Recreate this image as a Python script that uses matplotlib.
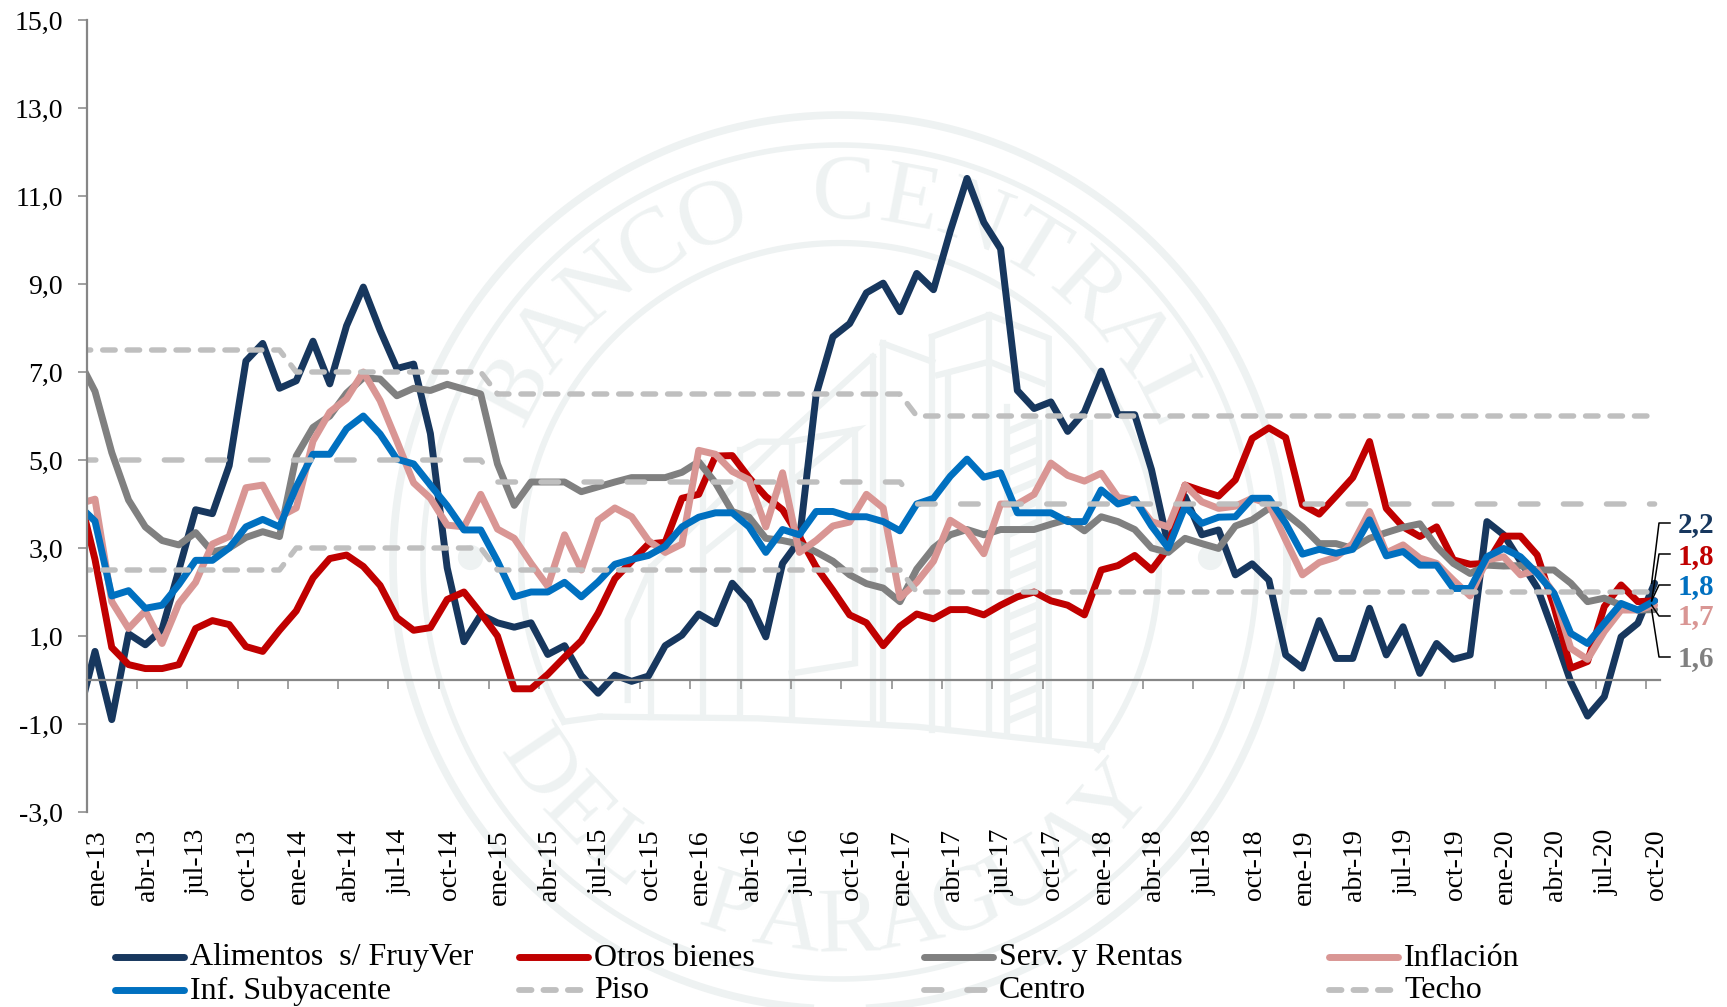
import numpy as np
import matplotlib
matplotlib.use("Agg")
import matplotlib.pyplot as plt

plt.rcParams['font.family'] = ['Liberation Serif', 'DejaVu Serif']
plt.rcParams['lines.scale_dashes'] = False

W, H = 1727, 1007

# meses: el primer valor es dic-12, queda cortado por el eje
alimentos = [-0.85, 0.65, -0.9, 1.05, 0.8, 1.15, 2.5, 3.87, 3.78, 4.87, 7.25, 7.65, 6.63, 6.8, 7.7, 6.73, 8.05,
             8.93, 7.95, 7.08, 7.18, 5.6, 2.55, 0.87, 1.48, 1.3, 1.2, 1.3, 0.58, 0.78, 0.1, -0.3, 0.11, -0.03,
             0.09, 0.78, 1.02, 1.5, 1.28, 2.2, 1.78, 0.98, 2.65, 3.17, 6.48, 7.8, 8.1, 8.8, 9.02, 8.37, 9.24,
             8.87, 10.2, 11.4, 10.4, 9.8, 6.58, 6.17, 6.32, 5.65, 6.09, 7.02, 6.03, 6.03, 4.78, 3.05, 4.17, 3.3,
             3.41, 2.39, 2.64, 2.27, 0.57, 0.27, 1.35, 0.49, 0.49, 1.63, 0.57, 1.21, 0.15, 0.83, 0.47, 0.57,
             3.6, 3.3, 2.7, 2.1, 1.06, -0.04, -0.82, -0.38, 0.98, 1.29, 2.2]
otros = [4.3, 2.74, 0.74, 0.35, 0.26, 0.26, 0.35, 1.17, 1.35, 1.26, 0.76, 0.65, 1.13, 1.57, 2.32, 2.76, 2.84,
         2.58, 2.15, 1.42, 1.13, 1.19, 1.83, 2.0, 1.52, 1.0, -0.2, -0.2, 0.13, 0.52, 0.89, 1.52, 2.3, 2.7, 3.09,
         3.13, 4.13, 4.22, 5.09, 5.1, 4.6, 4.17, 3.87, 3.26, 2.57, 2.04, 1.48, 1.3, 0.78, 1.22, 1.5, 1.39, 1.6,
         1.6, 1.48, 1.7, 1.89, 2.0, 1.8, 1.7, 1.48, 2.5, 2.6, 2.83, 2.5, 3.0, 4.43, 4.3, 4.18, 4.55, 5.49, 5.73,
         5.51, 3.98, 3.77, 4.18, 4.6, 5.42, 3.9, 3.48, 3.26, 3.48, 2.73, 2.63, 2.65, 3.27, 3.27, 2.84, 1.67,
         0.27, 0.42, 1.67, 2.16, 1.78, 1.8]
servicios = [7.3, 6.56, 5.17, 4.09, 3.48, 3.17, 3.07, 3.35, 2.91, 3.0, 3.24, 3.37, 3.26, 5.09, 5.74, 6.0, 6.52,
             6.87, 6.84, 6.46, 6.63, 6.58, 6.72, 6.61, 6.5, 4.91, 3.97, 4.5, 4.5, 4.5, 4.28, 4.39, 4.5, 4.6, 4.6,
             4.6, 4.72, 4.96, 4.48, 3.83, 3.7, 3.22, 3.17, 3.09, 2.91, 2.7, 2.39, 2.19, 2.09, 1.78, 2.52, 3.0, 3.3,
             3.42, 3.3, 3.42, 3.42, 3.42, 3.54, 3.65, 3.39, 3.71, 3.6, 3.42, 3.0, 2.9, 3.22, 3.1, 2.99, 3.5, 3.64,
             3.9, 3.79, 3.48, 3.1, 3.1, 2.99, 3.22, 3.35, 3.47, 3.55, 3.03, 2.65, 2.42, 2.61, 2.59, 2.6, 2.5, 2.5,
             2.2, 1.78, 1.86, 1.7, 1.59, 1.6]
inflacion = [4.0, 4.11, 1.78, 1.17, 1.57, 0.83, 1.74, 2.22, 3.09, 3.26, 4.37, 4.43, 3.71, 3.91, 5.43, 6.09, 6.39,
             7.0, 6.35, 5.43, 4.48, 4.13, 3.52, 3.48, 4.22, 3.43, 3.22, 2.65, 2.13, 3.3, 2.5, 3.63, 3.91, 3.71,
             3.17, 2.9, 3.09, 5.22, 5.13, 4.74, 4.55, 3.48, 4.71, 2.9, 3.17, 3.5, 3.59, 4.22, 3.91, 1.87, 2.22,
             2.7, 3.63, 3.39, 2.87, 4.0, 4.0, 4.22, 4.93, 4.65, 4.52, 4.7, 4.15, 4.09, 3.6, 3.48, 4.43, 4.05, 3.9,
             3.95, 4.13, 4.0, 3.18, 2.39, 2.67, 2.79, 3.1, 3.83, 2.89, 3.07, 2.77, 2.65, 2.27, 1.91, 2.73, 2.8,
             2.39, 2.5, 1.97, 0.72, 0.47, 1.1, 1.59, 1.59, 1.7]
subyacente = [3.98, 3.61, 1.91, 2.03, 1.63, 1.7, 2.17, 2.72, 2.72, 3.0, 3.48, 3.65, 3.48, 4.39, 5.13, 5.13, 5.71,
              6.0, 5.59, 5.02, 4.91, 4.43, 3.96, 3.41, 3.41, 2.7, 1.89, 2.0, 2.0, 2.22, 1.89, 2.23, 2.63, 2.74,
              2.83, 3.04, 3.48, 3.7, 3.8, 3.8, 3.48, 2.9, 3.42, 3.3, 3.83, 3.83, 3.71, 3.71, 3.6, 3.39, 4.0, 4.13,
              4.63, 5.02, 4.61, 4.71, 3.8, 3.8, 3.8, 3.6, 3.6, 4.32, 4.0, 4.11, 3.5, 3.0, 3.94, 3.56, 3.7, 3.71,
              4.13, 4.13, 3.56, 2.86, 2.97, 2.88, 2.97, 3.64, 2.82, 2.92, 2.61, 2.61, 2.08, 2.08, 2.8, 2.99, 2.8,
              2.42, 1.97, 1.06, 0.83, 1.29, 1.74, 1.59, 1.8]
piso = [2.5] * 13 + [3.0] * 12 + [2.5] * 25 + [2.0] * 45
centro = [5.0] * 25 + [4.5] * 25 + [4.0] * 45
techo = [7.5] * 13 + [7.0] * 12 + [6.5] * 25 + [6.0] * 45

etiquetas_x = ['ene-13', 'abr-13', 'jul-13', 'oct-13', 'ene-14', 'abr-14', 'jul-14', 'oct-14',
               'ene-15', 'abr-15', 'jul-15', 'oct-15', 'ene-16', 'abr-16', 'jul-16', 'oct-16',
               'ene-17', 'abr-17', 'jul-17', 'oct-17', 'ene-18', 'abr-18', 'jul-18', 'oct-18',
               'ene-19', 'abr-19', 'jul-19', 'oct-19', 'ene-20', 'abr-20', 'jul-20', 'oct-20']
ticks_y = [-3, -1, 1, 3, 5, 7, 9, 11, 13, 15]
etiquetas_y = ['-3,0', '-1,0', '1,0', '3,0', '5,0', '7,0', '9,0', '11,0', '13,0', '15,0']

AZUL, ROJO, GRIS, ROSA, CELESTE, PUNTOS = '#17375E', '#C00000', '#808080', '#D99694', '#0070C0', '#BFBFBF'
EJE = '#868686'
SELLO = '#EEF2F2'
DASH_CORTO = (0, (9, 8.6))
DASH_LARGO = (0, (12.7, 18.3))

fig = plt.figure(figsize=(W / 100, H / 100), dpi=100, facecolor='white')


def new_px_axes(zorder):
    a = fig.add_axes([0, 0, 1, 1], zorder=zorder)
    a.set_xlim(0, W)
    a.set_ylim(H, 0)
    a.axis('off')
    a.patch.set_alpha(0)
    return a


# sello de fondo
bg = new_px_axes(0)
cx, cy = 840, 562
t = np.linspace(0, 2 * np.pi, 500)
for r, w in [(447, 5.5), (417, 4)]:
    bg.plot(cx + r * np.cos(t), cy + r * np.sin(t), color=SELLO, lw=w, clip_on=False)
t_in = np.radians(np.linspace(210, -36, 300))
bg.plot(cx + 319 * np.cos(t_in), cy - 319 * np.sin(t_in), color=SELLO, lw=4.5)
for px_x in [470, 1210]:
    bg.scatter([px_x], [557], s=330, color=SELLO, linewidths=0)

arriba = "BANCO CENTRAL"
for ang, c in zip(np.linspace(152, 27, len(arriba)), arriba):
    a = np.radians(ang)
    bg.text(cx + 366 * np.cos(a), cy - 366 * np.sin(a), c, fontsize=68, color=SELLO,
            rotation=ang - 90, ha='center', va='center')
abajo = "DEL PARAGUAY"
for ang, c in zip(np.linspace(214, 319, len(abajo)), abajo):
    a = np.radians(ang)
    bg.text(cx + 366 * np.cos(a), cy - 366 * np.sin(a), c, fontsize=68, color=SELLO,
            rotation=ang + 90, ha='center', va='center')

# edificio, en coordenadas del recorte de la referencia
edificio = [
    [(840, 110), (985, 45), (1135, 115), (1135, 1310)],
    [(840, 110), (840, 1290)],
    [(855, 225), (985, 185), (1120, 250)],
    [(880, 225), (880, 1290)],
    [(985, 45), (985, 1300)],
    [(1030, 320), (1030, 1300)],
    [(1110, 370), (1110, 1310)],
    [(1240, 370), (1240, 1330)],
    [(715, 130), (840, 185)],
    [(715, 130), (715, 1270)],
    [(690, 170), (690, 1265)],
    [(690, 170), (460, 420), (130, 800), (70, 960), (70, 1200)],
    [(130, 800), (130, 1250)],
    [(360, 450), (400, 425), (480, 425), (645, 390), (270, 750)],
    [(645, 390), (645, 1090), (485, 1120)],
    [(485, 430), (485, 1250)],
    [(260, 490), (260, 1240)],
    [(355, 450), (355, 1240)],
    [(0, 1250), (400, 1255), (800, 1280), (1270, 1340)],
    [(-90, 1265), (0, 1250)],
]
for seg in edificio:
    xs = [600 + p[0] / 2.529 for p in seg]
    ys = [300 + p[1] / 3 for p in seg]
    bg.plot(xs, ys, color=SELLO, lw=4.5, solid_joinstyle='miter')
# franja ornamental de la torre
for zy in np.arange(360, 1280, 62):
    bg.plot([600 + 1040 / 2.529, 600 + 1100 / 2.529], [300 + (zy + 30) / 3, 300 + zy / 3], color=SELLO, lw=5)

# grafico principal
left, right, top, bottom = 87.3, 1660, 20, 812
ax = fig.add_axes([left / W, 1 - bottom / H, (right - left) / W, (bottom - top) / H], zorder=1)
ax.patch.set_alpha(0)
ax.set_xlim((left - 95) / 16.77, (right - 95) / 16.77)
ax.set_ylim(-3, 15)

idx = np.arange(-1, 94)
for vals, col in [(alimentos, AZUL), (otros, ROJO), (servicios, GRIS), (inflacion, ROSA), (subyacente, CELESTE)]:
    ax.plot(idx, vals, color=col, lw=5, solid_joinstyle='round', solid_capstyle='round')
for vals, ls in [(piso, DASH_CORTO), (centro, DASH_LARGO), (techo, DASH_CORTO)]:
    ax.plot(idx, vals, color=PUNTOS, lw=3.9, ls=ls, dash_capstyle='round', dash_joinstyle='round')

for s in ['top', 'right']:
    ax.spines[s].set_visible(False)
ax.spines['bottom'].set_position(('data', 0))
for s in ['left', 'bottom']:
    ax.spines[s].set_color(EJE)
    ax.spines[s].set_linewidth(1.6)

ax.set_yticks(ticks_y)
ax.set_yticklabels(etiquetas_y, fontsize=20)
ax.tick_params(axis='y', length=6.5, width=1.1, color=EJE, pad=11)
ax.set_xticks(np.arange(2.5, 93, 3))
ax.set_xticklabels([])
ax.tick_params(axis='x', length=6.5, width=1.1, color=EJE)

top_ax = new_px_axes(2)
for i, lab in enumerate(etiquetas_x):
    x_px = ax.transData.transform((i * 3, 0))[0]
    top_ax.text(x_px + 2, 829, lab, rotation=90, ha='center', va='top', fontsize=20, color='black')

# etiquetas finales
finales = [('2,2', AZUL, 2.2, 525, 523), ('1,8', ROJO, 1.8, 557, 554), ('1,8', CELESTE, 1.8, 587, 585),
           ('1,7', ROSA, 1.7, 617, 616), ('1,6', GRIS, 1.6, 659, 657)]
for txt, col, val, y_txt, y_codo in finales:
    xd, yd = ax.transData.transform((93, val))
    top_ax.plot([xd - 3, 1659, 1670], [H - yd, y_codo, y_codo], color='black', lw=1.1)
    top_ax.text(1696, y_txt, txt, color=col, fontsize=21, fontweight='bold', ha='center', va='center')

# leyenda
leyenda = [('Alimentos  s/ FruyVer', AZUL, '-', 112, 957), ('Otros bienes', ROJO, '-', 516, 957),
           ('Serv. y Rentas', GRIS, '-', 921, 957), ('Inflación', ROSA, '-', 1326, 957),
           ('Inf. Subyacente', CELESTE, '-', 112, 990), ('Piso', PUNTOS, DASH_CORTO, 516, 990),
           ('Centro', PUNTOS, DASH_LARGO, 921, 990), ('Techo', PUNTOS, DASH_CORTO, 1326, 990)]
for nombre, col, ls, x0, y0 in leyenda:
    if ls == '-':
        top_ax.plot([x0 + 3, x0 + 72], [y0, y0], color=col, lw=5, solid_capstyle='round')
    else:
        top_ax.plot([x0 + 3, x0 + 72], [y0, y0], color=col, lw=4.2, ls=ls, dash_capstyle='round')
    top_ax.text(x0 + 78, y0 + 1, nombre, fontsize=23, color='black', ha='left', va='center')

fig.savefig('out.png', dpi=100)
